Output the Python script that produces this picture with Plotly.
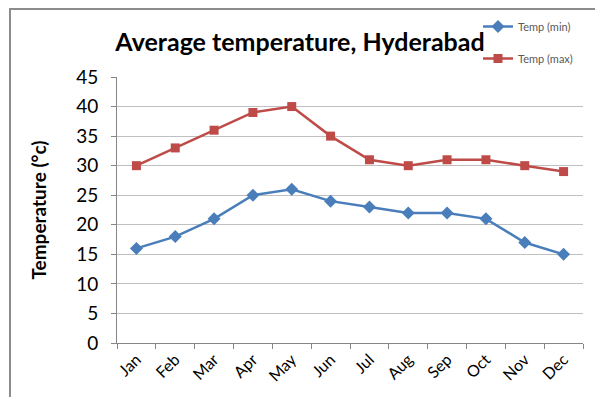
import plotly.graph_objects as go

months = ["Jan", "Feb", "Mar", "Apr", "May", "Jun", "Jul", "Aug", "Sep", "Oct", "Nov", "Dec"]
temp_min = [16, 18, 21, 25, 26, 24, 23, 22, 22, 21, 17, 15]
temp_max = [30, 33, 36, 39, 40, 35, 31, 30, 31, 31, 30, 29]
y_ticks = [0, 5, 10, 15, 20, 25, 30, 35, 40, 45]

BLUE = "#4A7EBB"
RED = "#BE4B48"
FONT = "Lato"

# page offset (body margin) in the photographed page
OFF = 8
W, H = 603 - 2 * OFF, 405 - 2 * OFF
L, T = 117 - OFF, 77 - OFF
R = W - (583 - OFF)
B = H - (343 - OFF)
pw, ph = W - L - R, H - T - B

def px(x):
    return (x - OFF - L) / pw

def py(y):
    return (H - B - (y - OFF)) / ph

fig = go.Figure()
fig.add_trace(go.Scatter(
    x=months, y=temp_min, name="Temp (min)", mode="lines+markers",
    line=dict(color=BLUE, width=2.5),
    marker=dict(symbol="diamond", size=10, color=BLUE),
    legendgroup="a",
))
fig.add_trace(go.Scatter(
    x=months, y=temp_max, name="Temp (max)", mode="lines+markers",
    line=dict(color=RED, width=2.5),
    marker=dict(symbol="square", size=9, color=RED),
    legendgroup="b",
))

fig.update_layout(
    width=W, height=H,
    margin=dict(l=L, r=R, t=T, b=B, autoexpand=False),
    paper_bgcolor="white", plot_bgcolor="white",
    font=dict(family=FONT, color="#000000"),
    title=dict(
        text="<b>Average temperature, Hyderabad</b>",
        x=(300 - OFF) / W, xanchor="center", xref="container",
        y=1 - (42 - OFF) / H, yanchor="middle",
        font=dict(size=25, family=FONT, color="#000000"),
    ),
    legend=dict(
        x=px(478), y=py(12), xanchor="left", yanchor="top",
        font=dict(size=11, color="#595959", family=FONT),
        bgcolor="rgba(0,0,0,0)",
        traceorder="grouped", tracegroupgap=13,
        itemwidth=30,
    ),
    showlegend=True,
)

fig.update_xaxes(
    type="category", range=[-0.5, 11.5],
    showline=True, linecolor="#868686", linewidth=1,
    ticks="outside", tickson="boundaries", ticklen=5, tickcolor="#868686",
    tickangle=-45, tickfont=dict(size=16, family=FONT, color="#000000"),
    showgrid=False, zeroline=False,
)
fig.update_yaxes(
    range=[0, 45], tickvals=y_ticks,
    showline=True, linecolor="#868686", linewidth=1,
    ticks="outside", ticklen=5, tickcolor="#868686",
    ticklabelstandoff=9,
    tickfont=dict(size=19, family=FONT, color="#000000"),
    showgrid=True, gridcolor="#C0C0C0", gridwidth=1,
    zeroline=False,
    title=dict(text="<b>Temperature (°c)</b>", font=dict(size=19, family=FONT), standoff=24),
)

# outer chart border (top and left)
fig.add_shape(type="line", xref="paper", yref="paper",
              x0=px(9), x1=px(603), y0=py(9), y1=py(9),
              line=dict(color="#8C8C8C", width=2))
fig.add_shape(type="line", xref="paper", yref="paper",
              x0=px(10), x1=px(10), y0=py(9), y1=py(405),
              line=dict(color="#8C8C8C", width=2))

fig.write_html("out.html")
